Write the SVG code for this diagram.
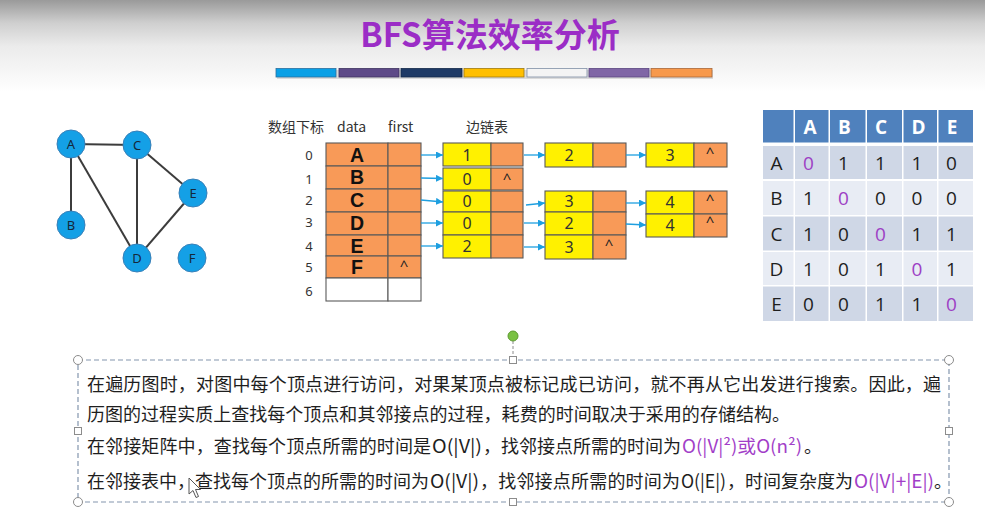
<svg xmlns="http://www.w3.org/2000/svg" width="985" height="519" viewBox="0 0 985 519">
  <defs>
    <linearGradient id="topShade" x1="0" y1="0" x2="0" y2="1">
      <stop offset="0" stop-color="#9a9a9a"/>
      <stop offset="0.25" stop-color="#cfcfcf"/>
      <stop offset="0.5" stop-color="#ebebeb"/>
      <stop offset="1" stop-color="#ffffff"/>
    </linearGradient>
    <marker id="arrow" markerWidth="7" markerHeight="7" refX="7" refY="3.5" orient="auto" markerUnits="userSpaceOnUse">
      <path d="M0,0 L7,3.5 L0,7 Z" fill="#1e9fe0"/>
    </marker>
    <style>
      .title { font-family: "Noto Sans CJK SC", "Noto Sans", sans-serif; font-weight: bold; font-size: 33px; fill: #9b2dc6; }
      .bar { stroke-width: 0.8; }
      .vnode circle { fill: #14a0e6; stroke: #3a80b8; stroke-width: 1; }
      .vnode text { font-family: "Noto Sans", "Liberation Sans", sans-serif; font-size: 13px; fill: #14283a; text-anchor: middle; }
      .gedge { stroke: #3c3c3c; stroke-width: 2; }
      .hdr { font-family: "Noto Sans CJK SC", "Noto Sans", sans-serif; font-size: 14px; fill: #333; }
      .idx { font-family: "Noto Sans", "Liberation Sans", sans-serif; font-size: 13px; fill: #333; text-anchor: middle; }
      .org { fill: #f89a58; stroke: #5a5a5a; stroke-width: 1.1; }
      .yel { fill: #fff100; stroke: #5a5a5a; stroke-width: 1.1; }
      .blank { fill: #ffffff; stroke: #5a5a5a; stroke-width: 1.1; }
      .big { font-family: "Liberation Sans", "Noto Sans", sans-serif; font-weight: bold; font-size: 19.5px; fill: #111; text-anchor: middle; }
      .num { font-family: "Noto Sans", "Liberation Sans", sans-serif; font-size: 16px; fill: #333; text-anchor: middle; }
      .nil { font-family: "Noto Sans", "Liberation Sans", sans-serif; font-size: 15px; fill: #222; text-anchor: middle; }
      .link { stroke: #1e9fe0; stroke-width: 1.3; fill: none; marker-end: url(#arrow); }
      .mh { fill: #4f81bd; }
      .md { fill: #cfd7e6; }
      .ml { fill: #e8ecf4; }
      .mht { font-family: "Open Sans", "Noto Sans", sans-serif; font-weight: bold; font-size: 19px; fill: #ffffff; text-anchor: middle; }
      .mt { font-family: "Open Sans", "Noto Sans", sans-serif; font-size: 19px; fill: #1e1e1e; text-anchor: middle; }
      .diag { fill: #9d3fc4; }
      .body { font-family: "Noto Sans CJK SC", "Noto Sans", sans-serif; font-size: 18px; fill: #1e1e1e; }
      .purple { fill: #a23ec8; }
      .frame { fill: none; stroke: #8496ae; stroke-width: 1.2; stroke-dasharray: 5 3; }
      .handle { fill: #ffffff; stroke: #8c8c8c; stroke-width: 1; }
    </style>
  </defs>

  <!-- slide background -->
  <rect x="0" y="0" width="985" height="519" fill="#ffffff"/>
  <rect x="0" y="0" width="985" height="92" fill="url(#topShade)"/>

  <!-- title -->
  <text class="title" x="490" y="47" text-anchor="middle">BFS算法效率分析</text>

  <!-- decorative colour bar -->
  <g id="colour-bar">
    <rect x="277" y="70" width="436" height="9" fill="#000" opacity="0.12"/>
    <rect class="bar" x="276" y="68.5" width="60" height="8.5" fill="#0aa0e6" stroke="#2a6f9e"/>
    <rect class="bar" x="339" y="68.5" width="60" height="8.5" fill="#5e4a88" stroke="#3f3460"/>
    <rect class="bar" x="401" y="68.5" width="61" height="8.5" fill="#1e3a66" stroke="#13284a"/>
    <rect class="bar" x="464" y="68.5" width="60" height="8.5" fill="#ffbf00" stroke="#a07a10"/>
    <rect class="bar" x="527" y="68.5" width="60" height="8.5" fill="#f4f4f4" stroke="#7f8fa6"/>
    <rect class="bar" x="589" y="68.5" width="60" height="8.5" fill="#8066a6" stroke="#5a4680"/>
    <rect class="bar" x="651" y="68.5" width="61" height="8.5" fill="#f7994c" stroke="#a8683a"/>
  </g>

  <!-- undirected graph -->
  <g id="graph-edges">
    <line class="gedge" x1="71" y1="144" x2="137" y2="145"/>
    <line class="gedge" x1="71" y1="144" x2="71" y2="225"/>
    <line class="gedge" x1="71" y1="144" x2="137" y2="258"/>
    <line class="gedge" x1="137" y1="145" x2="137" y2="258"/>
    <line class="gedge" x1="137" y1="145" x2="193" y2="193"/>
    <line class="gedge" x1="193" y1="193" x2="137" y2="258"/>
  </g>
  <g id="vA" class="vnode"><circle cx="71" cy="144" r="14"/><text x="71" y="148.5">A</text></g>
  <g id="vB" class="vnode"><circle cx="71" cy="225" r="14"/><text x="71" y="229.5">B</text></g>
  <g id="vC" class="vnode"><circle cx="137" cy="145" r="14"/><text x="137" y="149.5">C</text></g>
  <g id="vD" class="vnode"><circle cx="137" cy="258" r="14"/><text x="137" y="262.5">D</text></g>
  <g id="vE" class="vnode"><circle cx="193" cy="193" r="14"/><text x="193" y="197.5">E</text></g>
  <g id="vF" class="vnode"><circle cx="192" cy="258" r="14"/><text x="192" y="262.5">F</text></g>

  <!-- vertex array -->
  <g id="array-header">
    <text class="hdr" x="268" y="132">数组下标</text>
    <text class="hdr" x="337" y="132">data</text>
    <text class="hdr" x="388" y="132">first</text>
    <text class="hdr" x="466" y="132">边链表</text>
  </g>
  <g id="array-index">
    <text class="idx" x="309" y="160">0</text>
    <text class="idx" x="309" y="184">1</text>
    <text class="idx" x="309" y="205">2</text>
    <text class="idx" x="309" y="227">3</text>
    <text class="idx" x="309" y="251">4</text>
    <text class="idx" x="309" y="272">5</text>
    <text class="idx" x="309" y="296">6</text>
  </g>
  <g id="vertex-array">
    <rect class="org" x="326" y="143" width="62" height="23"/><rect class="org" x="388" y="143" width="33" height="23"/>
    <rect class="org" x="326" y="166" width="62" height="23"/><rect class="org" x="388" y="166" width="33" height="23"/>
    <rect class="org" x="326" y="189" width="62" height="23"/><rect class="org" x="388" y="189" width="33" height="23"/>
    <rect class="org" x="326" y="212" width="62" height="23"/><rect class="org" x="388" y="212" width="33" height="23"/>
    <rect class="org" x="326" y="235" width="62" height="21"/><rect class="org" x="388" y="235" width="33" height="21"/>
    <rect class="org" x="326" y="256" width="62" height="22"/><rect class="org" x="388" y="256" width="33" height="22"/>
    <rect class="blank" x="326" y="278" width="62" height="23"/><rect class="blank" x="388" y="278" width="33" height="23"/>
    <text class="big" x="357" y="162">A</text>
    <text class="big" x="357" y="184">B</text>
    <text class="big" x="357" y="207">C</text>
    <text class="big" x="357" y="230">D</text>
    <text class="big" x="357" y="252.5">E</text>
    <text class="big" x="357" y="274">F</text>
    <text class="nil" x="404" y="271">^</text>
  </g>

  <!-- edge list nodes -->
  <g id="col1-row0">
    <rect class="yel" x="443" y="143" width="48" height="23"/><rect class="org" x="491" y="143" width="32" height="23"/>
    <text class="num" x="467" y="160.5">1</text>
  </g>
  <g id="col1-row1">
    <rect class="yel" x="443" y="168" width="48" height="22"/><rect class="org" x="491" y="168" width="32" height="22"/>
    <text class="num" x="467" y="184.5">0</text><text class="nil" x="507" y="184">^</text>
  </g>
  <g id="col1-rows234">
    <rect class="yel" x="443" y="191" width="48" height="21"/><rect class="org" x="491" y="191" width="32" height="21"/>
    <rect class="yel" x="443" y="212" width="48" height="23"/><rect class="org" x="491" y="212" width="32" height="23"/>
    <rect class="yel" x="443" y="235" width="48" height="23"/><rect class="org" x="491" y="235" width="32" height="23"/>
    <text class="num" x="467" y="206.5">0</text>
    <text class="num" x="467" y="228.5">0</text>
    <text class="num" x="467" y="252">2</text>
  </g>
  <g id="col2-row0">
    <rect class="yel" x="545" y="143" width="48" height="24"/><rect class="org" x="593" y="143" width="33" height="24"/>
    <text class="num" x="569" y="161">2</text>
  </g>
  <g id="col2-rows234">
    <rect class="yel" x="545" y="191" width="48" height="21"/><rect class="org" x="593" y="191" width="33" height="21"/>
    <rect class="yel" x="545" y="212" width="48" height="23"/><rect class="org" x="593" y="212" width="33" height="23"/>
    <rect class="yel" x="545" y="235" width="48" height="24"/><rect class="org" x="593" y="235" width="33" height="24"/>
    <text class="num" x="569" y="207">3</text>
    <text class="num" x="569" y="229">2</text>
    <text class="num" x="569" y="252.5">3</text>
    <text class="nil" x="609" y="250">^</text>
  </g>
  <g id="col3-row0">
    <rect class="yel" x="646" y="143" width="48" height="24"/><rect class="org" x="694" y="143" width="33" height="24"/>
    <text class="num" x="670" y="161">3</text><text class="nil" x="710" y="158">^</text>
  </g>
  <g id="col3-rows23">
    <rect class="yel" x="646" y="191" width="48" height="23"/><rect class="org" x="694" y="191" width="33" height="23"/>
    <rect class="yel" x="646" y="214" width="48" height="23"/><rect class="org" x="694" y="214" width="33" height="23"/>
    <text class="num" x="670" y="208">4</text><text class="nil" x="710" y="205">^</text>
    <text class="num" x="670" y="231">4</text><text class="nil" x="710" y="227">^</text>
  </g>

  <!-- pointers -->
  <g id="connectors">
    <line class="link" x1="421" y1="155" x2="443" y2="155"/>
    <line class="link" x1="421" y1="178" x2="443" y2="178.5"/>
    <line class="link" x1="421" y1="200" x2="443" y2="202"/>
    <line class="link" x1="421" y1="223" x2="443" y2="223"/>
    <line class="link" x1="421" y1="246" x2="443" y2="246"/>
    <line class="link" x1="524" y1="155" x2="545" y2="155"/>
    <line class="link" x1="526" y1="205" x2="545" y2="203"/>
    <line class="link" x1="524" y1="223" x2="545" y2="223"/>
    <line class="link" x1="524" y1="247" x2="545" y2="247"/>
    <line class="link" x1="626" y1="155" x2="646" y2="155"/>
    <line class="link" x1="626" y1="203" x2="646" y2="203"/>
    <line class="link" x1="626" y1="224" x2="646" y2="225"/>
  </g>

  <!-- adjacency matrix -->
  <g id="matrix">
    <rect class="mh" x="763" y="110" width="30.5" height="32.5"/>
    <rect class="mh" x="795" y="110" width="33.5" height="32.5"/>
    <rect class="mh" x="830" y="110" width="35.5" height="32.5"/>
    <rect class="mh" x="867" y="110" width="35" height="32.5"/>
    <rect class="mh" x="903.5" y="110" width="33.5" height="32.5"/>
    <rect class="mh" x="938.5" y="110" width="34.5" height="32.5"/>

    <rect class="md" x="763" y="146" width="30.5" height="33"/><rect class="md" x="795" y="146" width="33.5" height="33"/><rect class="md" x="830" y="146" width="35.5" height="33"/><rect class="md" x="867" y="146" width="35" height="33"/><rect class="md" x="903.5" y="146" width="33.5" height="33"/><rect class="md" x="938.5" y="146" width="34.5" height="33"/>
    <rect class="ml" x="763" y="181" width="30.5" height="34"/><rect class="ml" x="795" y="181" width="33.5" height="34"/><rect class="ml" x="830" y="181" width="35.5" height="34"/><rect class="ml" x="867" y="181" width="35" height="34"/><rect class="ml" x="903.5" y="181" width="33.5" height="34"/><rect class="ml" x="938.5" y="181" width="34.5" height="34"/>
    <rect class="md" x="763" y="216.5" width="30.5" height="34"/><rect class="md" x="795" y="216.5" width="33.5" height="34"/><rect class="md" x="830" y="216.5" width="35.5" height="34"/><rect class="md" x="867" y="216.5" width="35" height="34"/><rect class="md" x="903.5" y="216.5" width="33.5" height="34"/><rect class="md" x="938.5" y="216.5" width="34.5" height="34"/>
    <rect class="ml" x="763" y="252" width="30.5" height="33"/><rect class="ml" x="795" y="252" width="33.5" height="33"/><rect class="ml" x="830" y="252" width="35.5" height="33"/><rect class="ml" x="867" y="252" width="35" height="33"/><rect class="ml" x="903.5" y="252" width="33.5" height="33"/><rect class="ml" x="938.5" y="252" width="34.5" height="33"/>
    <rect class="md" x="763" y="286.5" width="30.5" height="34.5"/><rect class="md" x="795" y="286.5" width="33.5" height="34.5"/><rect class="md" x="830" y="286.5" width="35.5" height="34.5"/><rect class="md" x="867" y="286.5" width="35" height="34.5"/><rect class="md" x="903.5" y="286.5" width="33.5" height="34.5"/><rect class="md" x="938.5" y="286.5" width="34.5" height="34.5"/>

    <text class="mht" x="810" y="134">A</text>
    <text class="mht" x="844.5" y="134">B</text>
    <text class="mht" x="881" y="134">C</text>
    <text class="mht" x="918.5" y="134">D</text>
    <text class="mht" x="952" y="134">E</text>

    <text class="mt" x="776.5" y="170">A</text>
    <text class="mt diag" x="808.5" y="170">0</text>
    <text class="mt" x="843.5" y="170">1</text>
    <text class="mt" x="880.5" y="170">1</text>
    <text class="mt" x="917" y="170">1</text>
    <text class="mt" x="951.5" y="170">0</text>

    <text class="mt" x="776.5" y="205">B</text>
    <text class="mt" x="808.5" y="205">1</text>
    <text class="mt diag" x="843.5" y="205">0</text>
    <text class="mt" x="880.5" y="205">0</text>
    <text class="mt" x="917" y="205">0</text>
    <text class="mt" x="951.5" y="205">0</text>

    <text class="mt" x="776.5" y="241">C</text>
    <text class="mt" x="808.5" y="241">1</text>
    <text class="mt" x="843.5" y="241">0</text>
    <text class="mt diag" x="880.5" y="241">0</text>
    <text class="mt" x="917" y="241">1</text>
    <text class="mt" x="951.5" y="241">1</text>

    <text class="mt" x="776.5" y="276">D</text>
    <text class="mt" x="808.5" y="276">1</text>
    <text class="mt" x="843.5" y="276">0</text>
    <text class="mt" x="880.5" y="276">1</text>
    <text class="mt diag" x="917" y="276">0</text>
    <text class="mt" x="951.5" y="276">1</text>

    <text class="mt" x="776.5" y="311">E</text>
    <text class="mt" x="808.5" y="311">0</text>
    <text class="mt" x="843.5" y="311">0</text>
    <text class="mt" x="880.5" y="311">1</text>
    <text class="mt" x="917" y="311">1</text>
    <text class="mt diag" x="951.5" y="311">0</text>
  </g>

  <!-- selected text box with handles -->
  <g id="text-box">
    <line x1="513" y1="341" x2="513" y2="356" stroke="#8c8c8c" stroke-width="1" stroke-dasharray="3 2"/>
    <rect class="frame" x="78" y="360" width="871" height="142"/>
    <circle cx="513" cy="336" r="5" fill="#7ac143" stroke="#5d9a30" stroke-width="1"/>
    <circle class="handle" cx="78" cy="360" r="4.5"/>
    <circle class="handle" cx="949" cy="360" r="4.5"/>
    <circle class="handle" cx="78" cy="502" r="4.5"/>
    <circle class="handle" cx="949" cy="502" r="4.5"/>
    <rect class="handle" x="509.5" y="356.5" width="7" height="7"/>
    <rect class="handle" x="509.5" y="498.5" width="7" height="7"/>
    <rect class="handle" x="74.5" y="427.5" width="7" height="7"/>
    <rect class="handle" x="945.5" y="427.5" width="7" height="7"/>

    <text class="body" x="87" y="391" textLength="854" lengthAdjust="spacing">在遍历图时，对图中每个顶点进行访问，对果某顶点被标记成已访问，就不再从它出发进行搜索。因此，遍</text>
    <text class="body" x="87" y="421" textLength="703" lengthAdjust="spacing">历图的过程实质上查找每个顶点和其邻接点的过程，耗费的时间取决于采用的存储结构。</text>

    <text class="body" x="87" y="453" textLength="344" lengthAdjust="spacing">在邻接矩阵中，查找每个顶点所需的时间是</text>
    <text class="body" x="432" y="453" textLength="50" lengthAdjust="spacingAndGlyphs">O(|V|)</text>
    <text class="body" x="483" y="453" textLength="198" lengthAdjust="spacing">，找邻接点所需的时间为</text>
    <text class="body purple" x="682" y="453" textLength="120" lengthAdjust="spacingAndGlyphs">O(|V|²)或O(n²)</text>
    <text class="body" x="804" y="453">。</text>

    <text class="body" x="87" y="488" textLength="342" lengthAdjust="spacing">在邻接表中，查找每个顶点的所需的时间为</text>
    <text class="body" x="430" y="488" textLength="49" lengthAdjust="spacingAndGlyphs">O(|V|)</text>
    <text class="body" x="480" y="488" textLength="200" lengthAdjust="spacing">，找邻接点所需的时间为</text>
    <text class="body" x="681" y="488" textLength="45" lengthAdjust="spacingAndGlyphs">O(|E|)</text>
    <text class="body" x="727" y="488" textLength="126" lengthAdjust="spacing">，时间复杂度为</text>
    <text class="body purple" x="854" y="488" textLength="80" lengthAdjust="spacingAndGlyphs">O(|V|+|E|)</text>
    <text class="body" x="934" y="488">。</text>
  </g>

  <!-- mouse pointer -->
  <path d="M189,478 L189,494 L193,490.5 L196,497.5 L198.5,496.5 L195.5,489.5 L200.5,489.5 Z" fill="#ffffff" stroke="#555" stroke-width="1"/>
</svg>
